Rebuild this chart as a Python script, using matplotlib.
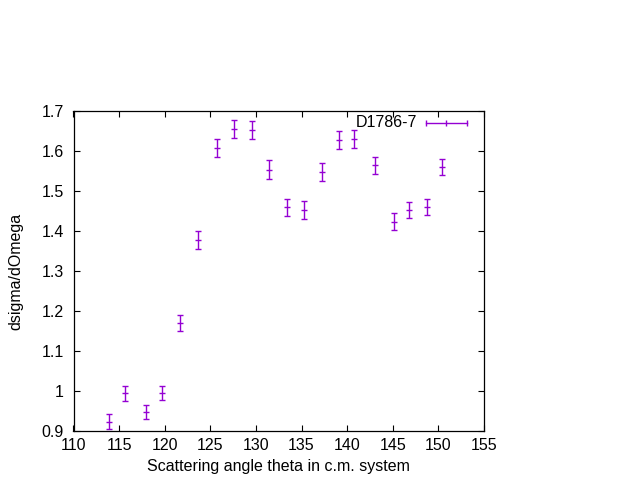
import matplotlib
matplotlib.use('Agg')
import matplotlib.pyplot as plt

# Datos (angulo, seccion eficaz, error)
theta = [113.9, 115.7, 118.0, 119.7, 121.7, 123.7, 125.7, 127.6, 129.6, 131.4,
         133.4, 135.3, 137.2, 139.1, 140.8, 143.0, 145.1, 146.8, 148.7, 150.4]
dsigma = [0.923, 0.994, 0.947, 0.996, 1.169, 1.377, 1.607, 1.654, 1.652, 1.553,
          1.459, 1.452, 1.547, 1.627, 1.630, 1.564, 1.423, 1.452, 1.460, 1.560]
err = [0.019, 0.0195, 0.018, 0.0175, 0.020, 0.0225, 0.0225, 0.0225, 0.0225, 0.024,
       0.021, 0.0225, 0.0225, 0.022, 0.023, 0.021, 0.021, 0.0195, 0.021, 0.021]

xticks = [110, 115, 120, 125, 130, 135, 140, 145, 150, 155]
yticks = [0.9, 1.0, 1.1, 1.2, 1.3, 1.4, 1.5, 1.6, 1.7]
ytick_labels = ['0.9', '1', '1.1', '1.2', '1.3', '1.4', '1.5', '1.6', '1.7']

color = '#9400D3'
plt.rcParams['font.family'] = ['Liberation Sans', 'DejaVu Sans']

fig = plt.figure(figsize=(6.4, 4.8), dpi=100)
ax = fig.add_axes([73.5 / 640, 1 - 431 / 480, 410.5 / 640, 320 / 480])

ax.errorbar(theta, dsigma, yerr=err, fmt='_', color=color, ecolor=color,
            markersize=5, markeredgewidth=1.0, elinewidth=1.0, capsize=2.0,
            capthick=1.0)

ax.set_xlim(110, 155)
ax.set_ylim(0.9, 1.7)
ax.set_xticks(xticks)
ax.set_yticks(yticks)
ax.set_yticklabels(ytick_labels)
ax.tick_params(direction='in', top=True, right=True, length=4.5, width=0.8,
               labelsize=11.5)
ax.tick_params(axis='x', pad=5)
ax.tick_params(axis='y', pad=7)
for s in ax.spines.values():
    s.set_linewidth(0.9)

ax.set_xlabel('Scattering angle theta in c.m. system', fontsize=11.5, labelpad=4)
ax.set_ylabel('dsigma/dOmega', fontsize=11.5, labelpad=13)

# Leyenda estilo gnuplot
ax.text(0.838, 0.963, 'D1786-7', transform=ax.transAxes, ha='right',
        va='center', fontsize=11.5)
ax.plot([0.859, 0.958], [0.963, 0.963], transform=ax.transAxes, color=color,
        lw=1.0, clip_on=False)
ax.plot([0.859, 0.9085, 0.958], [0.963, 0.963, 0.963], transform=ax.transAxes,
        color=color, ls='none', marker='|', markersize=4, mew=1.0,
        clip_on=False)

fig.savefig('out.png', dpi=100)
